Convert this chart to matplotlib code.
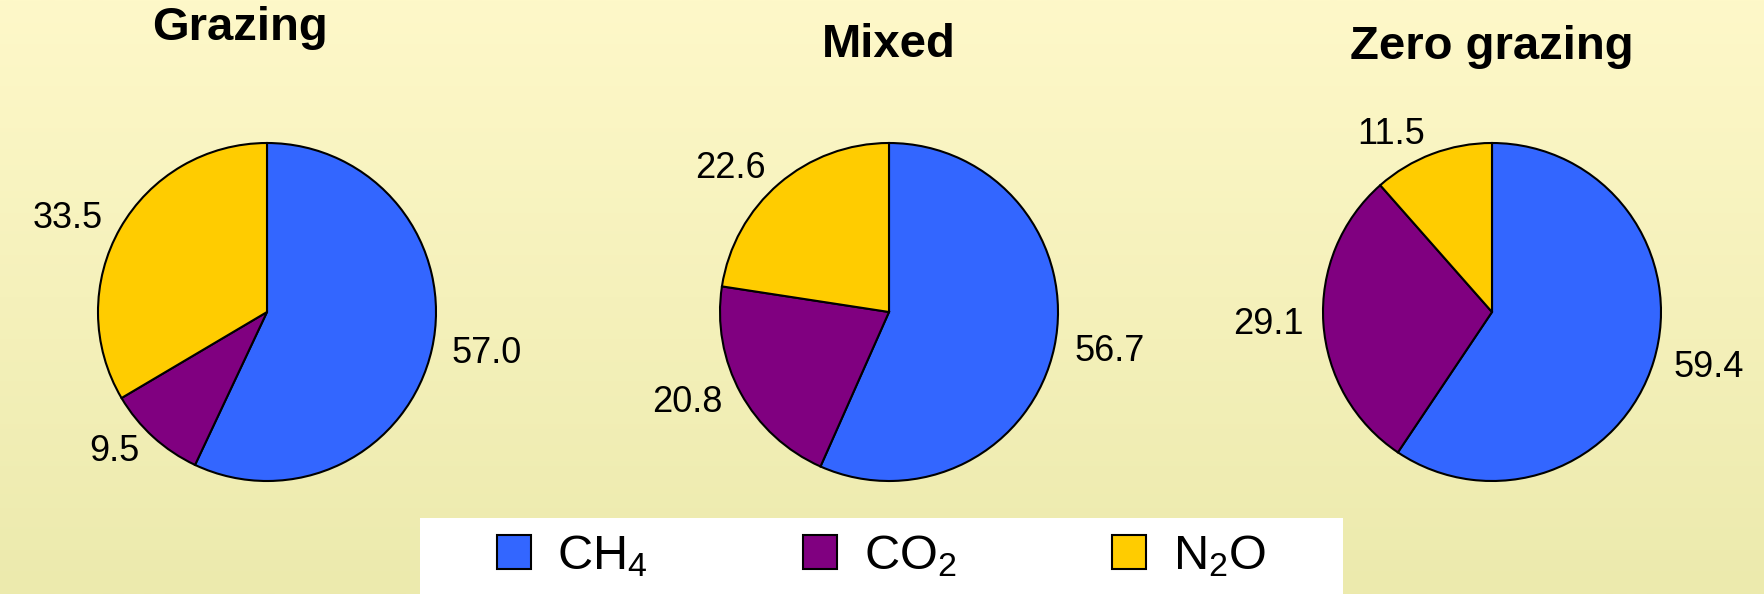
import numpy as np
import matplotlib.pyplot as plt
from matplotlib.lines import Line2D
from matplotlib import font_manager

plt.rcParams['font.family'] = ['Liberation Sans', 'DejaVu Sans']
plt.rcParams['mathtext.fontset'] = 'custom'

# legend font: narrow if available
names = {f.name for f in font_manager.fontManager.ttflist}
leg_font = 'Liberation Sans Narrow' if 'Liberation Sans Narrow' in names else 'Liberation Sans'
print(leg_font)
plt.rcParams['mathtext.rm'] = leg_font
plt.rcParams['mathtext.it'] = leg_font + ':italic'

# data
systems = ["Grazing", "Mixed", "Zero grazing"]
gases = [r"$\mathregular{CH_4}$", r"$\mathregular{CO_2}$", r"$\mathregular{N_2O}$"]
colors = ["#3366FF", "#800080", "#FFCC00"]
ch4 = [57.0, 56.7, 59.4]
co2 = [9.5, 20.8, 29.1]
n2o = [33.5, 22.6, 11.5]

W, H = 1765, 594
fig = plt.figure(figsize=(W / 100, H / 100), dpi=100)

# gradient background
bg = fig.add_axes([0, 0, 1, 1], zorder=-10)
top = np.array([254, 248, 201]) / 255
bot = np.array([236, 234, 173]) / 255
t = np.linspace(0, 1, 256)[:, None]
grad = (top * (1 - t) + bot * t)[:, None, :]
bg.imshow(grad, aspect="auto", extent=[0, 1, 0, 1])
bg.axis("off")

centers_x = [267, 889, 1492]
center_y = 312
radius = 169
lim = 1.6
size = 2 * lim * radius
title_pos = [(240, 28), (889, 45), (1492, 47)]

for i, name in enumerate(systems):
    cx = centers_x[i]
    ax = fig.add_axes([(cx - size / 2) / W, (H - center_y - size / 2) / H,
                       size / W, size / H])
    vals = [ch4[i], co2[i], n2o[i]]
    ax.pie(vals, colors=colors, startangle=90, counterclock=False,
           labels=[f"{v:.1f}" for v in vals], labeldistance=1.12,
           wedgeprops=dict(edgecolor="black", linewidth=1.5),
           textprops=dict(fontsize=26, color="black"))
    ax.set_xlim(-lim, lim)
    ax.set_ylim(-lim, lim)
    ax.set_facecolor("none")
    tx, ty = title_pos[i]
    fig.text(tx / W, 1 - ty / H, name, fontsize=34, fontweight="bold",
             ha="center", va="center")

# legend on a white box
lax = fig.add_axes([420 / W, 0, 923 / W, 76 / H])
lax.set_facecolor("white")
lax.set_xticks([])
lax.set_yticks([])
for s in lax.spines.values():
    s.set_visible(False)
handles = [Line2D([], [], marker="s", linestyle="none", markersize=24,
                  markerfacecolor=c, markeredgecolor="black",
                  markeredgewidth=1.5) for c in colors]
lax.legend(handles, gases, loc="center", ncol=3, frameon=False,
           prop={'family': leg_font, 'size': 35},
           handlelength=0.7, handletextpad=0.55,
           columnspacing=3.2, borderaxespad=0)

plt.savefig("out.png", dpi=100)
